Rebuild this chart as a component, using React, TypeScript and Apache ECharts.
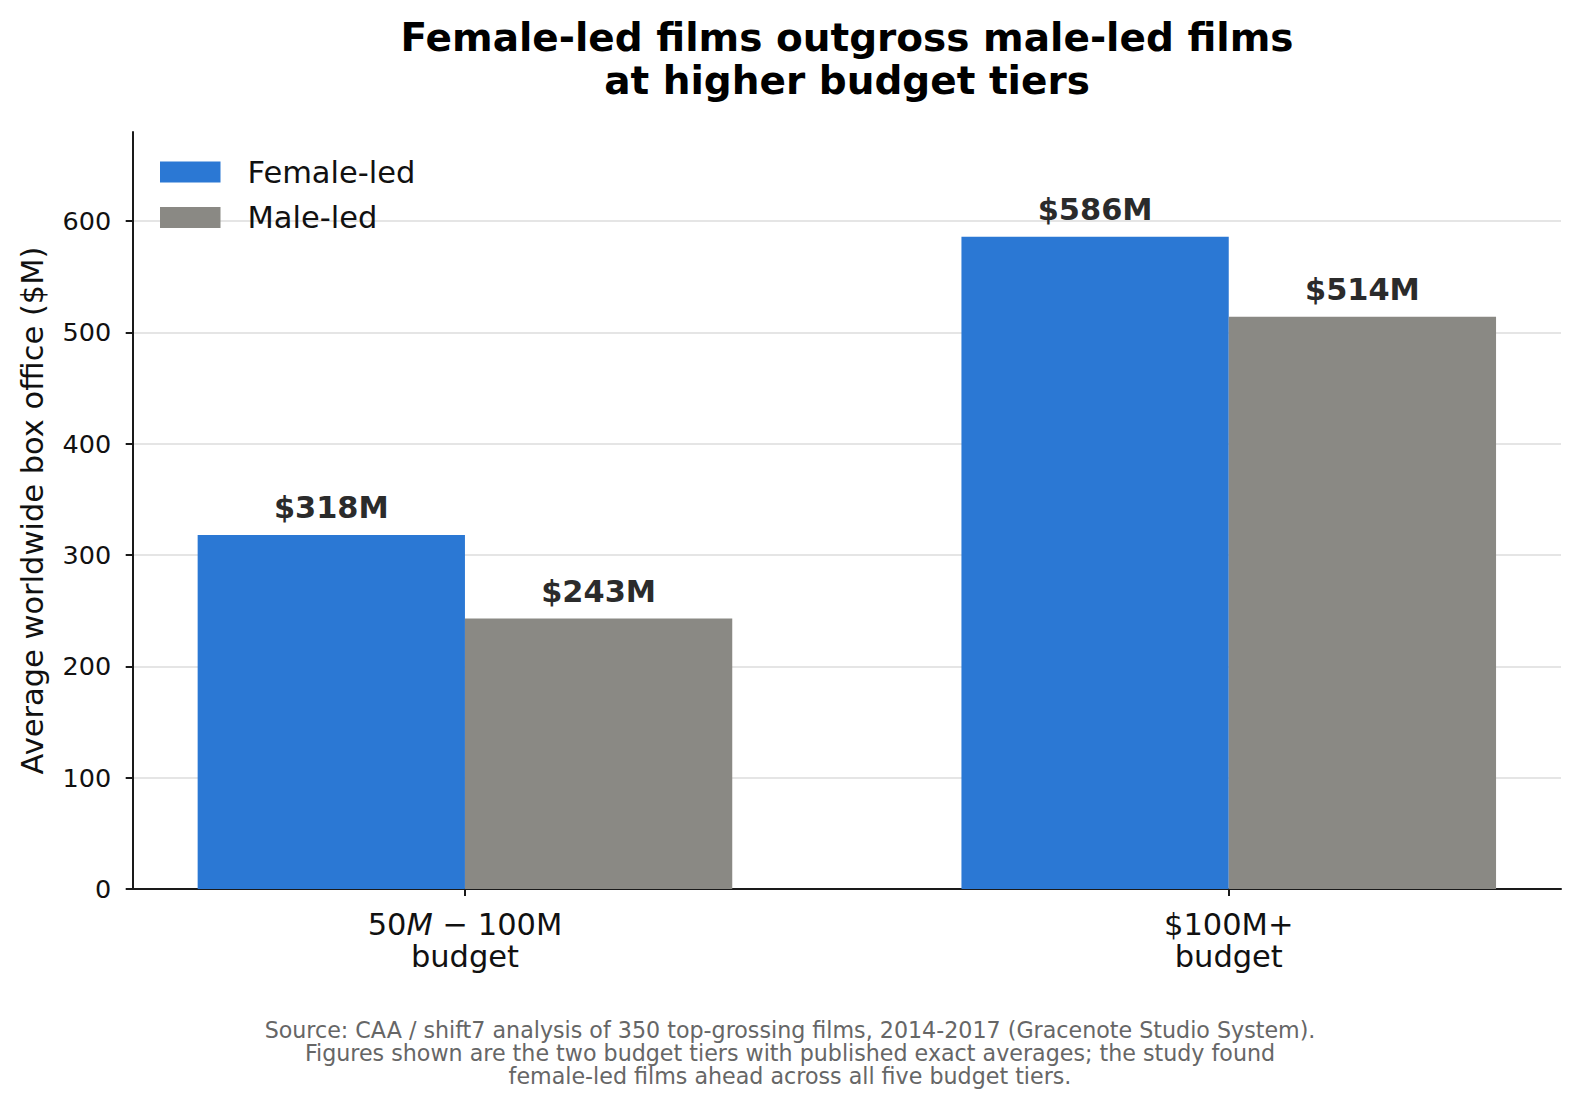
import React, { useEffect, useRef } from "react";
import * as echarts from "echarts";

const tierPositions = [0, 1];
const tierLabels = ["50{i|M} − 100M\nbudget", "$100M+\nbudget"];
const femaleLed = [318, 586];
const maleLed = [243, 514];
const yTicks = [0, 100, 200, 300, 400, 500, 600];
const seriesNames = ["Female-led", "Male-led"];

const titleText = "Female-led films outgross male-led films\nat higher budget tiers";
const footerText =
  "Source: CAA / shift7 analysis of 350 top-grossing films, 2014-2017 (Gracenote Studio System).\nFigures shown are the two budget tiers with published exact averages; the study found\nfemale-led films ahead across all five budget tiers.";

const FONT = "DejaVu Sans";

export default function App() {
  const ref = useRef<HTMLDivElement>(null);
  useEffect(() => {
    document.body.style.margin = "0";
    document.body.style.overflow = "hidden";
    document.documentElement.style.overflow = "hidden";
    const chart = echarts.init(ref.current!, null, { renderer: "svg" });
    const label = {
      show: true,
      position: "top",
      distance: 12,
      fontFamily: FONT,
      fontSize: 30.4,
      fontWeight: "bold",
      color: "#2b2b2b",
      formatter: (p: any) => "$" + p.value[1] + "M",
    };
    chart.setOption({
      animation: false,
      backgroundColor: "#ffffff",
      textStyle: { fontFamily: FONT },
      grid: { left: 132.7, right: 19, top: 132, bottom: 219, containLabel: false },
      legend: {
        orient: "vertical",
        left: 160,
        top: 156.5,
        padding: 0,
        itemWidth: 60.5,
        itemHeight: 21,
        itemGap: 14.5,
        icon: "rect",
        data: seriesNames,
        textStyle: { fontFamily: FONT, fontSize: 30.5, color: "#111", padding: [0, 0, 0, 22] },
      },
      xAxis: {
        type: "value",
        min: -0.435,
        max: 1.435,
        axisLine: { show: true, onZero: false, lineStyle: { color: "#1a1a1a", width: 2 } },
        axisTick: { show: true, customValues: tierPositions, length: 7, lineStyle: { color: "#1a1a1a", width: 2 } },
        splitLine: { show: false },
        axisLabel: {
          customValues: tierPositions,
          margin: 19,
          fontFamily: FONT,
          fontSize: 30.5,
          lineHeight: 32,
          color: "#111",
          align: "center",
          formatter: (v: number) => tierLabels[Math.round(v)] ?? "",
          rich: { i: { fontStyle: "italic", fontFamily: FONT, fontSize: 30.5, color: "#111", lineHeight: 32 } },
        },
      },
      yAxis: {
        type: "value",
        min: 0,
        max: 680,
        interval: 100,
        name: "Average worldwide box office ($M)",
        nameLocation: "middle",
        nameGap: 85,
        nameTextStyle: { fontFamily: FONT, fontSize: 30.5, color: "#111" },
        axisLine: { show: true, onZero: false, lineStyle: { color: "#1a1a1a", width: 2 } },
        axisTick: { show: true, customValues: yTicks, length: 7, lineStyle: { color: "#1a1a1a", width: 2 } },
        axisLabel: {
          customValues: yTicks,
          margin: 21.5,
          fontFamily: FONT,
          fontSize: 25.5,
          color: "#111",
        },
        splitLine: { show: true, lineStyle: { color: "#dcdcdc", width: 1.5 } },
      },
      series: [
        {
          name: seriesNames[0],
          type: "bar",
          barWidth: 267.3,
          barGap: "0%",
          itemStyle: { color: "#2b78d4" },
          label,
          data: femaleLed.map((v, i) => [tierPositions[i], v]),
        },
        {
          name: seriesNames[1],
          type: "bar",
          barWidth: 267.3,
          barGap: "0%",
          itemStyle: { color: "#8a8984" },
          label,
          data: maleLed.map((v, i) => [tierPositions[i], v]),
        },
      ],
      graphic: [
        {
          type: "text",
          x: 847,
          y: 59,
          style: {
            text: titleText,
            fontFamily: FONT,
            fontSize: 39,
            fontWeight: "bold",
            lineHeight: 43.5,
            fill: "#000",
            textAlign: "center",
            textVerticalAlign: "middle",
          },
        },
        {
          type: "text",
          x: 790,
          y: 1053,
          style: {
            text: footerText,
            fontFamily: FONT,
            fontSize: 22.2,
            lineHeight: 23,
            fill: "#666666",
            textAlign: "center",
            textVerticalAlign: "middle",
          },
        },
      ],
    });
    return () => chart.dispose();
  }, []);
  return (
    <div
      ref={ref}
      style={{ position: "fixed", left: 0, top: 0, width: 1580, height: 1108 }}
    />
  );
}
